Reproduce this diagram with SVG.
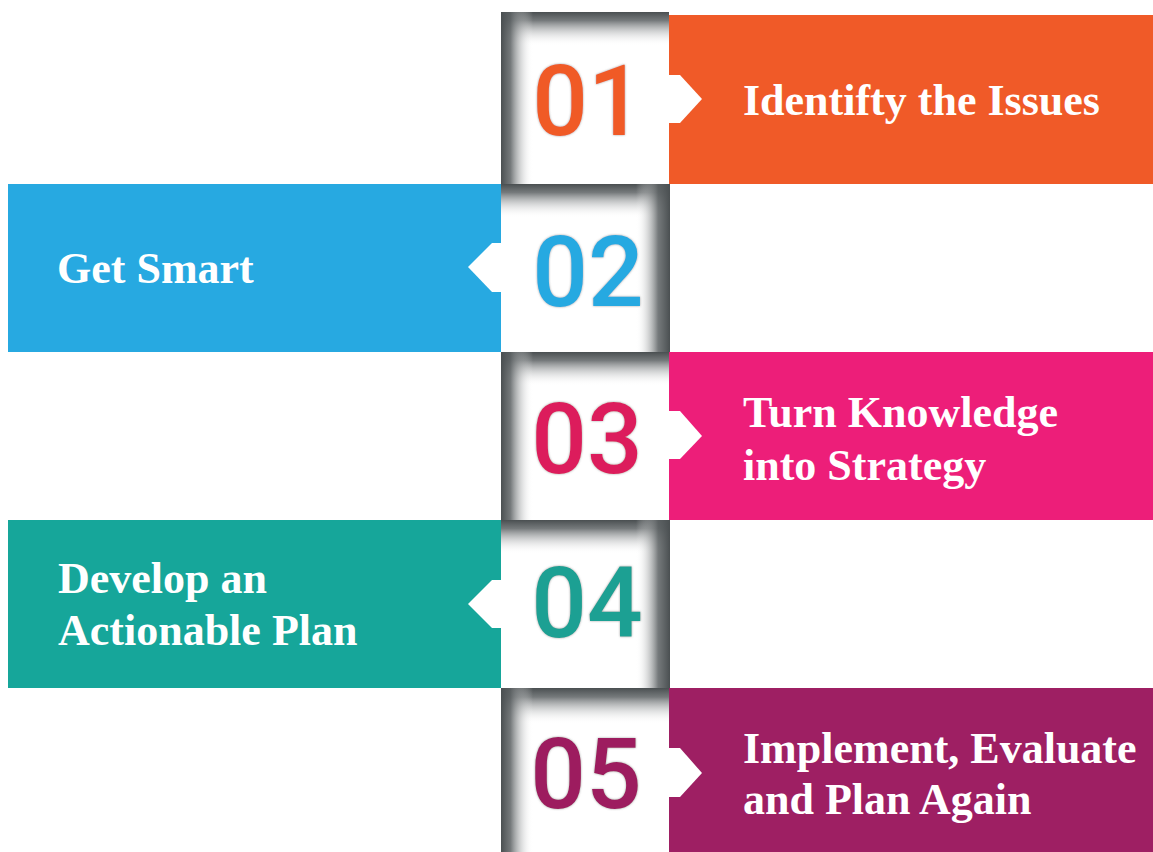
<svg xmlns="http://www.w3.org/2000/svg" width="1153" height="852" viewBox="0 0 1153 852">
<defs>
<style>
.lbl{font-family:"Liberation Serif","Times New Roman",serif;font-weight:bold;font-size:44px;fill:#ffffff}
.num{font-family:Roboto,"Liberation Sans",sans-serif;font-weight:500;font-size:98px;text-anchor:middle}
.notch{fill:#ffffff}
</style>
<linearGradient id="gTop" x1="0" y1="0" x2="0" y2="1">
<stop offset="0" stop-color="#4a4f51" stop-opacity="1"/>
<stop offset="0.25" stop-color="#5d6264" stop-opacity="0.85"/>
<stop offset="1" stop-color="#ffffff" stop-opacity="0"/>
</linearGradient>
<linearGradient id="gLeft" x1="0" y1="0" x2="1" y2="0">
<stop offset="0" stop-color="#4a4f51" stop-opacity="1"/>
<stop offset="0.3" stop-color="#5d6264" stop-opacity="0.85"/>
<stop offset="1" stop-color="#ffffff" stop-opacity="0"/>
</linearGradient>
<linearGradient id="gRight" x1="1" y1="0" x2="0" y2="0">
<stop offset="0" stop-color="#4a4f51" stop-opacity="1"/>
<stop offset="0.35" stop-color="#5d6264" stop-opacity="0.85"/>
<stop offset="1" stop-color="#ffffff" stop-opacity="0"/>
</linearGradient>
<filter id="halo" x="-10%" y="-10%" width="120%" height="120%">
<feGaussianBlur in="SourceAlpha" stdDeviation="1.3" result="b"/>
<feFlood flood-color="#8a8a8a" flood-opacity="0.8"/>
<feComposite in2="b" operator="in" result="s"/>
<feMerge><feMergeNode in="s"/><feMergeNode in="SourceGraphic"/></feMerge>
</filter>
</defs>
<rect width="1153" height="852" fill="#ffffff"/>

<g id="step1">
<rect x="669" y="15" width="484" height="169" fill="#f05a28"/>
<polygon class="notch" points="669,75 680,75 702,99 680,123 669,123"/>
<rect x="501" y="12" width="168" height="172" fill="#ffffff"/>
<rect x="501" y="12" width="168" height="34" fill="url(#gTop)"/>
<rect x="501" y="12" width="32" height="172" fill="url(#gLeft)"/>
<text class="num" x="588" y="135" fill="#f05a28" filter="url(#halo)">01</text>
<text class="lbl" x="743" y="115">Identifty the Issues</text>
</g>

<g id="step2">
<rect x="8" y="184" width="493" height="168" fill="#27a9e1"/>
<polygon class="notch" points="501,243 492,243 468,267 492,292 501,292"/>
<rect x="501" y="184" width="169" height="168" fill="#ffffff"/>
<rect x="501" y="184" width="169" height="34" fill="url(#gTop)"/>
<rect x="636" y="184" width="34" height="168" fill="url(#gRight)"/>
<text class="num" x="588" y="306" fill="#27a9e1" filter="url(#halo)">02</text>
<text class="lbl" x="57" y="283">Get Smart</text>
</g>

<g id="step3">
<rect x="669" y="352" width="484" height="168" fill="#ed1e79"/>
<polygon class="notch" points="669,411 680,411 702,436 680,459 669,459"/>
<rect x="501" y="352" width="168" height="168" fill="#ffffff"/>
<rect x="501" y="352" width="168" height="34" fill="url(#gTop)"/>
<rect x="501" y="352" width="32" height="168" fill="url(#gLeft)"/>
<text class="num" x="587" y="473" fill="#dc1d5c" filter="url(#halo)">03</text>
<text class="lbl" x="743" y="427">Turn Knowledge</text>
<text class="lbl" x="743" y="480">into Strategy</text>
</g>

<g id="step4">
<rect x="8" y="520" width="493" height="168" fill="#16a69a"/>
<polygon class="notch" points="501,580 492,580 468,604 492,628 501,628"/>
<rect x="501" y="520" width="169" height="168" fill="#ffffff"/>
<rect x="501" y="520" width="169" height="34" fill="url(#gTop)"/>
<rect x="636" y="520" width="34" height="168" fill="url(#gRight)"/>
<text class="num" x="587" y="637" fill="#1aa093" filter="url(#halo)">04</text>
<text class="lbl" x="58" y="593">Develop an</text>
<text class="lbl" x="58" y="645">Actionable Plan</text>
</g>

<g id="step5">
<rect x="669" y="688" width="484" height="164" fill="#9e1f63"/>
<polygon class="notch" points="669,748 680,748 702,773 680,797 669,797"/>
<rect x="501" y="688" width="168" height="164" fill="#ffffff"/>
<rect x="501" y="688" width="168" height="36" fill="url(#gTop)"/>
<rect x="501" y="688" width="32" height="164" fill="url(#gLeft)"/>
<text class="num" x="586" y="808" fill="#9d1b5f" filter="url(#halo)">05</text>
<text class="lbl" x="743" y="763">Implement, Evaluate</text>
<text class="lbl" x="743" y="814">and Plan Again</text>
</g>

<g id="connectors"></g>
</svg>
